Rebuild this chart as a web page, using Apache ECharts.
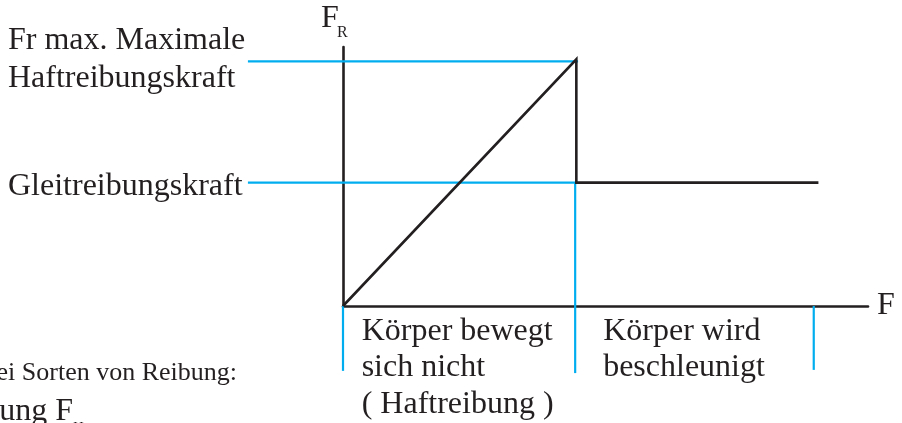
<!DOCTYPE html>
<html>
<head>
<meta charset="utf-8">
<script src="https://cdn.jsdelivr.net/npm/echarts@6/dist/echarts.min.js"></script>
<style>
html, body { margin: 0; padding: 0; background: #fff; }
#chart { width: 902px; height: 423px; }
</style>
</head>
<body>
<div id="chart"></div>
<script>
// Reibungskraft F_R über der Zugkraft F
const forceX = [0, 4, 4, 8.15];
const frictionY = [0, 10, 5, 5];

// blaue Hilfslinien für die beiden Kraftniveaus
const levelNames = ['Fr max. Maximale\nHaftreibungskraft', 'Gleitreibungskraft'];
const levelValues = [9.92, 5];
const levelStartX = -1.63;
const levelEndX = [4.03, 3.98];

// blaue Grenzen der Bereiche unter der F-Achse
const boundaryX = [0, 3.98, 8.07];
const boundaryTop = [0, 5, 0];
const boundaryBottom = [-2.63, -2.72, -2.59];

const regionNames = ['Körper bewegt\nsich nicht\n( Haftreibung )', 'Körper wird\nbeschleunigt'];
const regionX = [0.32, 4.46];

const serif = '"Liberation Serif", "Times New Roman", serif';
const ink = '#231f20';
const cyan = '#00aeef';

let myChart = echarts.init(document.getElementById('chart'));

// Segmente als [x1, y1, x2, y2]
let blueSegments = [];
levelValues.forEach((v, i) => {
  blueSegments.push([levelStartX, v, levelEndX[i], v]);
});
boundaryX.forEach((x, i) => {
  blueSegments.push([x, boundaryTop[i], x, boundaryBottom[i]]);
});

myChart.setOption({
  animation: false,
  grid: { left: 343, right: 34, top: 47, bottom: 117 },
  xAxis: {
    type: 'value',
    min: 0,
    max: 9,
    name: 'F',
    nameLocation: 'end',
    nameGap: 9,
    nameTextStyle: { fontFamily: serif, fontSize: 32, color: ink, verticalAlign: 'middle' },
    axisLine: { lineStyle: { color: ink, width: 2.6 } },
    axisTick: { show: false },
    axisLabel: { show: false },
    splitLine: { show: false },
  },
  yAxis: {
    type: 'value',
    min: 0,
    max: 10.5,
    axisLine: { show: true, lineStyle: { color: ink, width: 2.6 } },
    axisTick: { show: false },
    axisLabel: { show: false },
    splitLine: { show: false },
  },
  series: [
    {
      // blaue Hilfslinien, dürfen aus dem Diagramm herausragen
      type: 'custom',
      clip: false,
      silent: true,
      data: blueSegments,
      encode: { x: [0, 2], y: [1, 3] },
      renderItem: function (params, api) {
        let a = api.coord([api.value(0), api.value(1)]);
        let b = api.coord([api.value(2), api.value(3)]);
        return {
          type: 'line',
          shape: { x1: a[0], y1: a[1], x2: b[0], y2: b[1] },
          style: { stroke: cyan, lineWidth: 2.2 },
        };
      },
      z: 2,
    },
    {
      type: 'line',
      data: forceX.map((x, i) => [x, frictionY[i]]),
      symbol: 'none',
      clip: false,
      lineStyle: { color: ink, width: 2.6, join: 'miter' },
      z: 5,
    },
  ],
});

// Texte an den Achsenwerten ausrichten
let graphics = [];
levelNames.forEach((name, i) => {
  let p = myChart.convertToPixel({ gridIndex: 0 }, [levelStartX, levelValues[i]]);
  graphics.push({
    type: 'text',
    x: 8,
    y: p[1] + (i === 0 ? -1.5 : 4),
    style: {
      text: name,
      font: '32px ' + serif,
      fill: ink,
      align: 'left',
      verticalAlign: 'middle',
      lineHeight: 38,
    },
  });
});
regionNames.forEach((name, i) => {
  let p = myChart.convertToPixel({ gridIndex: 0 }, [regionX[i], 0]);
  graphics.push({
    type: 'text',
    x: p[0],
    y: p[1] + 7,
    style: {
      text: name,
      font: '32px ' + serif,
      fill: ink,
      align: 'left',
      verticalAlign: 'top',
      lineHeight: 36.5,
    },
  });
});

// F_R über der y-Achse
graphics.push(
  { type: 'text', x: 321, y: 19, style: { text: 'F', font: '32px ' + serif, fill: ink, align: 'left', verticalAlign: 'middle' } },
  { type: 'text', x: 337, y: 33, style: { text: 'R', font: '16px ' + serif, fill: ink, align: 'left', verticalAlign: 'middle' } }
);

// angeschnittener Text unten links
graphics.push(
  { type: 'text', x: 237, y: 373, style: { text: 'Es gibt zwei Sorten von Reibung:', font: '26px ' + serif, fill: ink, align: 'right', verticalAlign: 'middle' } },
  { type: 'text', x: 73, y: 412, style: { text: '1. Haftreibung F', font: '32px ' + serif, fill: ink, align: 'right', verticalAlign: 'middle' } },
  { type: 'text', x: 73, y: 428, style: { text: 'H', font: '15px ' + serif, fill: ink, align: 'left', verticalAlign: 'middle' } }
);

myChart.setOption({ graphic: graphics });
</script>
</body>
</html>
